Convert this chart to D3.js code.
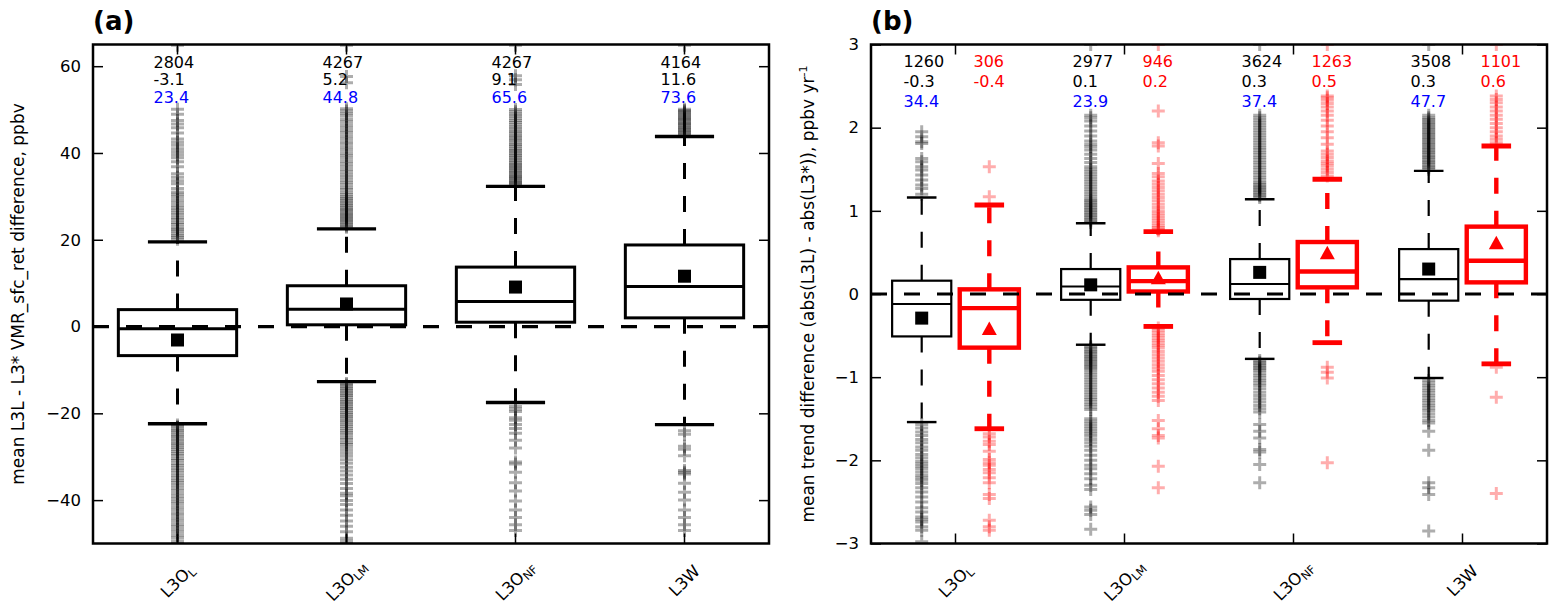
<!DOCTYPE html>
<html><head><meta charset="utf-8">
<script src="https://cdn.jsdelivr.net/npm/d3@7"></script>
<style>body{margin:0;background:#fff} text{font-family:"DejaVu Sans",sans-serif}</style>
</head><body><svg id="c" width="1558" height="612"></svg>
<script>
// ---------- data ----------
const categories = ["L3OL", "L3OLM", "L3ONF", "L3W"];
const catBase = ["L3O", "L3O", "L3O", "L3W"];
const catSub = ["L", "LM", "NF", ""];

// panel (a)
const aTicks = [-40, -20, 0, 20, 40, 60];
const aQ1 = [-6.7, 0.4, 1.0, 2.0];
const aMedian = [-0.5, 4.0, 5.8, 9.2];
const aQ3 = [3.9, 9.4, 13.7, 18.8];
const aMean = [-3.1, 5.2, 9.1, 11.6];
const aWhiskerLow = [-22.4, -12.7, -17.5, -22.6];
const aWhiskerHigh = [19.5, 22.5, 32.3, 43.8];
const aCount = [2804, 4267, 4267, 4164];
const aBlue = [23.4, 44.8, 65.6, 73.6];
const aOutHigh = [
  [20.1,20.6,21.0,21.5,22.0,22.4,22.9,23.5,24.0,24.6,25.1,25.7,26.2,26.8,27.3,27.9,28.6,29.2,29.9,30.5,31.0,31.8,32.9,33.6,34.4,35.2,36.8,38.0,38.9,39.6,40.3,41.0,41.8,42.5,43.2,44.6,45.8,46.7,47.5,48.9,50.1,64.8],
  [22.9,23.2,23.6,23.9,24.3,24.6,25.0,25.3,25.7,26.0,26.4,26.8,27.1,27.5,27.9,28.3,28.7,29.1,29.5,29.9,30.4,30.9,31.5,32.0,32.6,33.2,33.8,34.4,35.0,35.6,36.2,36.9,37.5,38.1,38.8,39.4,40.0,40.7,41.3,42.0,42.6,43.3,43.9,44.6,45.2,45.9,46.5,47.2,47.8,48.5,49.1,49.7,50.2,56.2,57.6,64.8],
  [32.6,32.9,33.2,33.5,33.8,34.1,34.4,34.7,35.0,35.4,35.7,36.0,36.4,36.7,37.1,37.4,37.8,38.2,38.6,39.0,39.4,39.8,40.2,40.6,41.0,41.5,41.9,42.3,42.8,43.2,43.7,44.1,44.6,45.0,45.5,46.0,46.5,47.0,47.5,48.0,48.5,49.0,49.5,50.0,55.8,56.9,57.8,64.8],
  [44.1,44.4,44.7,45.0,45.3,45.6,45.9,46.2,46.5,46.8,47.1,47.4,47.7,48.0,48.3,48.6,48.9,49.2,49.5,49.8,50.1,64.8]
];
const aOutLow = [
  [-22.7,-23.1,-23.6,-24.0,-24.5,-25.0,-25.4,-25.9,-26.4,-26.9,-27.3,-27.8,-28.3,-28.8,-29.3,-29.8,-30.4,-30.9,-31.5,-32.0,-32.6,-33.1,-33.7,-34.3,-34.9,-35.5,-36.0,-36.6,-37.2,-37.8,-38.5,-39.1,-39.7,-40.3,-40.9,-41.6,-42.2,-42.9,-43.5,-44.2,-44.8,-45.5,-46.1,-46.8,-47.4,-48.1,-48.7,-49.4,-50.0],
  [-13.1,-13.5,-13.9,-14.3,-14.7,-15.1,-15.5,-15.9,-16.3,-16.8,-17.2,-17.6,-18.0,-18.5,-18.9,-19.3,-19.8,-20.2,-20.7,-21.1,-21.6,-22.0,-22.5,-23.0,-23.5,-24.0,-24.5,-25.0,-25.6,-26.1,-26.7,-27.2,-27.8,-28.5,-29.2,-29.9,-30.7,-31.5,-32.4,-33.3,-34.2,-35.2,-36.2,-37.3,-38.4,-39.0,-40.1,-41.0,-42.3,-43.5,-44.8,-46.0,-47.3,-48.8,-49.4,-50.0],
  [-18.4,-19.0,-19.6,-21.0,-21.6,-22.6,-23.5,-24.6,-26.2,-28.0,-31.2,-31.7,-33.6,-36.0,-37.9,-40.2,-42.3,-44.0,-45.7,-47.0],
  [-24.0,-24.8,-27.6,-28.3,-29.8,-33.2,-33.6,-34.0,-36.1,-38.2,-40.0,-42.3,-44.0,-45.7,-47.0]
];

// panel (b)
const bTicks = [-3, -2, -1, 0, 1, 2, 3];
const bBlackQ1 = [-0.51, -0.07, -0.06, -0.08];
const bBlackMedian = [-0.12, 0.09, 0.12, 0.18];
const bBlackQ3 = [0.16, 0.30, 0.42, 0.54];
const bBlackMean = [-0.29, 0.11, 0.26, 0.30];
const bBlackWhiskerLow = [-1.54, -0.61, -0.78, -1.01];
const bBlackWhiskerHigh = [1.16, 0.85, 1.14, 1.48];
const bBlackCount = [1260, 2977, 3624, 3508];
const bBlackBlue = [34.4, 23.9, 37.4, 47.7];
const bRedQ1 = [-0.645, 0.03, 0.08, 0.14];
const bRedMedian = [-0.17, 0.155, 0.27, 0.40];
const bRedQ3 = [0.056, 0.32, 0.625, 0.81];
const bRedMean = [-0.42, 0.19, 0.49, 0.61];
const bRedWhiskerLow = [-1.62, -0.39, -0.585, -0.84];
const bRedWhiskerHigh = [1.07, 0.75, 1.38, 1.78];
const bRedCount = [306, 946, 1263, 1101];
const bBlackOutHigh = [
  [1.20,1.27,1.31,1.37,1.43,1.49,1.53,1.59,1.63,1.81,1.83,1.89,1.95],
  [0.86,0.88,0.90,0.92,0.94,0.96,0.98,1.00,1.02,1.04,1.06,1.08,1.10,1.12,1.14,1.17,1.20,1.23,1.26,1.29,1.32,1.35,1.38,1.41,1.44,1.47,1.50,1.53,1.58,1.63,1.68,1.73,1.77,1.80,1.84,1.90,1.96,2.02,2.08,2.12,2.15,3.0],
  [1.16,1.18,1.20,1.22,1.24,1.26,1.28,1.30,1.32,1.34,1.37,1.40,1.43,1.46,1.49,1.52,1.55,1.58,1.61,1.64,1.67,1.70,1.73,1.76,1.79,1.82,1.85,1.88,1.91,1.94,1.97,2.00,2.03,2.06,2.09,2.12,2.15,3.0],
  [1.50,1.52,1.54,1.56,1.58,1.60,1.62,1.64,1.66,1.68,1.70,1.72,1.74,1.76,1.78,1.80,1.82,1.84,1.86,1.88,1.90,1.92,1.94,1.96,1.98,2.00,2.02,2.04,2.06,2.08,2.10,2.12,2.15,3.0]
];
const bBlackOutLow = [
  [-1.57,-1.61,-1.66,-1.70,-1.75,-1.79,-1.84,-1.88,-1.93,-1.97,-2.01,-2.04,-2.07,-2.10,-2.14,-2.18,-2.21,-2.24,-2.28,-2.33,-2.38,-2.44,-2.50,-2.57,-2.62,-2.68,-2.71,-2.74,-2.80,-2.84,-2.98],
  [-0.63,-0.65,-0.67,-0.69,-0.71,-0.73,-0.75,-0.77,-0.79,-0.81,-0.83,-0.85,-0.87,-0.89,-0.91,-0.94,-0.97,-1.00,-1.03,-1.06,-1.09,-1.12,-1.15,-1.18,-1.21,-1.24,-1.27,-1.30,-1.33,-1.36,-1.39,-1.50,-1.53,-1.56,-1.59,-1.62,-1.65,-1.68,-1.71,-1.75,-1.79,-1.83,-1.88,-1.94,-2.00,-2.06,-2.10,-2.16,-2.22,-2.30,-2.35,-2.56,-2.60,-2.65,-2.83],
  [-0.80,-0.82,-0.84,-0.86,-0.88,-0.90,-0.92,-0.95,-0.98,-1.01,-1.04,-1.07,-1.10,-1.14,-1.18,-1.22,-1.26,-1.30,-1.34,-1.38,-1.42,-1.57,-1.65,-1.73,-1.87,-1.90,-2.05,-2.27],
  [-1.04,-1.07,-1.10,-1.13,-1.16,-1.19,-1.22,-1.25,-1.28,-1.31,-1.34,-1.37,-1.40,-1.44,-1.48,-1.52,-1.55,-1.65,-1.88,-2.27,-2.33,-2.41,-2.85]
];
const bRedOutHigh = [
  [1.17,1.53],
  [0.76,0.78,0.80,0.82,0.85,0.88,0.91,0.94,0.97,1.00,1.04,1.08,1.12,1.16,1.20,1.24,1.28,1.32,1.36,1.41,1.45,1.57,1.78,1.82,2.20,3.0],
  [1.42,1.46,1.50,1.54,1.57,1.60,1.64,1.68,1.72,1.80,1.88,1.95,2.02,2.09,2.15,2.20,2.25,2.29,2.33,2.36,2.38,3.0],
  [1.82,1.86,1.90,1.95,2.00,2.05,2.10,2.15,2.20,2.25,2.30,2.34,2.38,3.0]
];
const bRedOutLow = [
  [-1.68,-1.72,-1.77,-1.81,-1.89,-1.99,-2.03,-2.06,-2.11,-2.15,-2.21,-2.27,-2.41,-2.46,-2.72,-2.80,-2.84],
  [-0.41,-0.44,-0.47,-0.50,-0.53,-0.56,-0.59,-0.62,-0.65,-0.69,-0.73,-0.77,-0.81,-0.85,-0.89,-0.93,-0.98,-1.03,-1.08,-1.13,-1.18,-1.23,-1.28,-1.52,-1.62,-1.70,-1.73,-2.07,-2.33],
  [-0.88,-0.94,-1.01,-2.03],
  [-0.88,-1.24,-2.40]
];

// ---------- drawing ----------
const svg = d3.select("#c");
const TOP = 44.5, BOTTOM = 543.5;
const PA = {left: 93, right: 769};
const PB = {left: 871, right: 1547};
const BLUE = "#0000ff", RED = "#ff0000";
const plus = "M-6.5,0H6.5M0,-6.5V6.5";
const tickFmt = d3.format("d");

function setupPanel(P, domain, ticks, id) {
  const x = d3.scaleBand().domain(categories).range([P.left, P.right]).padding(0);
  const y = d3.scaleLinear().domain(domain).range([BOTTOM, TOP]);
  svg.append("clipPath").attr("id", id).append("rect")
    .attr("x", P.left).attr("y", TOP).attr("width", P.right - P.left).attr("height", BOTTOM - TOP);
  const g = svg.append("g");
  const clipG = g.append("g").attr("clip-path", `url(#${id})`);
  const styleAxis = sel => {
    sel.select(".domain").remove();
    sel.selectAll(".tick line").attr("stroke", "#000").attr("stroke-width", 1.5);
    sel.selectAll(".tick text").attr("font-size", 16.5).attr("fill", "#000").attr("font-family", "DejaVu Sans");
  };
  g.append("g").attr("transform", `translate(${P.left},0)`)
    .call(d3.axisLeft(y).tickValues(ticks).tickFormat(tickFmt).tickSizeInner(-10).tickSizeOuter(0).tickPadding(12)).call(styleAxis);
  g.append("g").attr("transform", `translate(${P.right},0)`)
    .call(d3.axisRight(y).tickValues(ticks).tickSizeInner(-10).tickSizeOuter(0).tickFormat("")).call(styleAxis);
  g.append("g").attr("transform", `translate(0,${TOP})`)
    .call(d3.axisTop(x).tickSizeInner(-10).tickSizeOuter(0).tickFormat("")).call(styleAxis);
  g.append("g").attr("transform", `translate(0,${BOTTOM})`)
    .call(d3.axisBottom(x).tickSizeInner(-10).tickSizeOuter(0).tickFormat("")).call(styleAxis);
  categories.forEach((c, i) => {
    const cx = x(c) + x.bandwidth() / 2;
    const t = g.append("text").attr("transform", `translate(${cx},581) rotate(-45)`)
      .attr("text-anchor", "middle").attr("y", 5.5).attr("font-size", 16.5).attr("fill", "#000");
    t.append("tspan").text(catBase[i]);
    if (catSub[i]) t.append("tspan").attr("font-size", 11.5).attr("dy", 3).text(catSub[i]);
  });
  return {x, y, g, clipG};
}

function drawOutliers(g, y, cx, vals, color) {
  g.append("g").selectAll("path").data(vals).join("path")
    .attr("d", plus).attr("transform", d => `translate(${cx},${y(d)})`)
    .attr("fill", "none").attr("stroke", color).attr("stroke-width", 3).attr("stroke-opacity", 0.32);
}

function drawBox(g, y, cx, w, q1, med, q3, lo, hi, color, lw) {
  const dash = "16,17";
  g.append("line").attr("x1", cx).attr("x2", cx).attr("y1", y(q3)).attr("y2", y(hi))
    .attr("stroke", color).attr("stroke-width", lw).attr("stroke-dasharray", dash);
  g.append("line").attr("x1", cx).attr("x2", cx).attr("y1", y(q1)).attr("y2", y(lo))
    .attr("stroke", color).attr("stroke-width", lw).attr("stroke-dasharray", dash);
  [lo, hi].forEach(v => g.append("line").attr("x1", cx - w / 4).attr("x2", cx + w / 4)
    .attr("y1", y(v)).attr("y2", y(v)).attr("stroke", color).attr("stroke-width", lw * 1.1));
  g.append("rect").attr("x", cx - w / 2).attr("y", y(q3)).attr("width", w).attr("height", y(q1) - y(q3))
    .attr("fill", "none").attr("stroke", color).attr("stroke-width", lw);
  g.append("line").attr("x1", cx - w / 2).attr("x2", cx + w / 2).attr("y1", y(med)).attr("y2", y(med))
    .attr("stroke", color).attr("stroke-width", lw);
}

function zeroLine(g, P, y) {
  g.append("line").attr("x1", P.left).attr("x2", P.right).attr("y1", y(0)).attr("y2", y(0))
    .attr("stroke", "#000").attr("stroke-width", 3.2).attr("stroke-dasharray", "16,17");
}

function frame(g, P) {
  g.append("rect").attr("x", P.left).attr("y", TOP).attr("width", P.right - P.left).attr("height", BOTTOM - TOP)
    .attr("fill", "none").attr("stroke", "#000").attr("stroke-width", 2.5);
}

function ann(g, xpos, ypos, txt, color) {
  g.append("text").attr("x", xpos).attr("y", ypos).attr("font-size", 16).attr("fill", color).text(txt);
}

// ----- panel (a) -----
{
  const {x, y, g, clipG} = setupPanel(PA, [-50, 65], aTicks, "clipA");
  const bw = x.bandwidth();
  categories.forEach((c, i) => {
    const cx = x(c) + bw / 2;
    drawOutliers(clipG, y, cx, aOutHigh[i], "#000");
    drawOutliers(clipG, y, cx, aOutLow[i], "#000");
  });
  zeroLine(clipG, PA, y);
  categories.forEach((c, i) => {
    const cx = x(c) + bw / 2;
    drawBox(clipG, y, cx, bw * 0.7, aQ1[i], aMedian[i], aQ3[i], aWhiskerLow[i], aWhiskerHigh[i], "#000", 3);
    clipG.append("rect").attr("x", cx - 6.5).attr("y", y(aMean[i]) - 6.5).attr("width", 13).attr("height", 13).attr("fill", "#000");
    const lx = cx - 24;
    ann(g, lx, 67.5, String(aCount[i]), "#000");
    ann(g, lx, 85, aMean[i].toFixed(1), "#000");
    ann(g, lx, 102.5, aBlue[i].toFixed(1), BLUE);
  });
  frame(g, PA);
  g.append("text").attr("x", 93).attr("y", 30).attr("font-size", 26).attr("font-weight", "bold").text("(a)");
  g.append("text").attr("transform", "translate(24,294) rotate(-90)").attr("text-anchor", "middle")
    .attr("font-size", 17).text("mean L3L - L3* VMR_sfc_ret difference, ppbv");
}

// ----- panel (b) -----
{
  const {x, y, g, clipG} = setupPanel(PB, [-3, 3], bTicks, "clipB");
  const bw = x.bandwidth();
  const off = bw * 0.2, w = bw * 0.35;
  categories.forEach((c, i) => {
    const cx = x(c) + bw / 2;
    drawOutliers(clipG, y, cx - off, bBlackOutHigh[i], "#000");
    drawOutliers(clipG, y, cx - off, bBlackOutLow[i], "#000");
    drawOutliers(clipG, y, cx + off, bRedOutHigh[i], RED);
    drawOutliers(clipG, y, cx + off, bRedOutLow[i], RED);
  });
  categories.forEach((c, i) => {
    const cx = x(c) + bw / 2;
    drawBox(clipG, y, cx - off, w, bBlackQ1[i], bBlackMedian[i], bBlackQ3[i], bBlackWhiskerLow[i], bBlackWhiskerHigh[i], "#000", 2.2);
    drawBox(clipG, y, cx + off, w, bRedQ1[i], bRedMedian[i], bRedQ3[i], bRedWhiskerLow[i], bRedWhiskerHigh[i], RED, 4.4);
  });
  zeroLine(clipG, PB, y);
  categories.forEach((c, i) => {
    const cx = x(c) + bw / 2;
    clipG.append("rect").attr("x", cx - off - 6.5).attr("y", y(bBlackMean[i]) - 6.5).attr("width", 13).attr("height", 13).attr("fill", "#000");
    const ty = y(bRedMean[i]);
    clipG.append("path").attr("d", `M${cx + off},${ty - 7.5}L${cx + off + 7.5},${ty + 6}L${cx + off - 7.5},${ty + 6}Z`).attr("fill", RED);
    ann(g, cx - 52, 66.7, String(bBlackCount[i]), "#000");
    ann(g, cx - 52, 86.7, bBlackMean[i].toFixed(1), "#000");
    ann(g, cx - 52, 106.7, bBlackBlue[i].toFixed(1), BLUE);
    ann(g, cx + 18, 66.7, String(bRedCount[i]), RED);
    ann(g, cx + 18, 86.7, bRedMean[i].toFixed(1), RED);
  });
  frame(g, PB);
  g.append("text").attr("x", 871).attr("y", 30).attr("font-size", 26).attr("font-weight", "bold").text("(b)");
  const yl = g.append("text").attr("transform", "translate(814,294) rotate(-90)").attr("text-anchor", "middle").attr("font-size", 17);
  yl.append("tspan").text("mean trend difference (abs(L3L) - abs(L3*)), ppbv yr");
  yl.append("tspan").attr("font-size", 11).attr("dy", -7).text("-1");
}
</script></body></html>
